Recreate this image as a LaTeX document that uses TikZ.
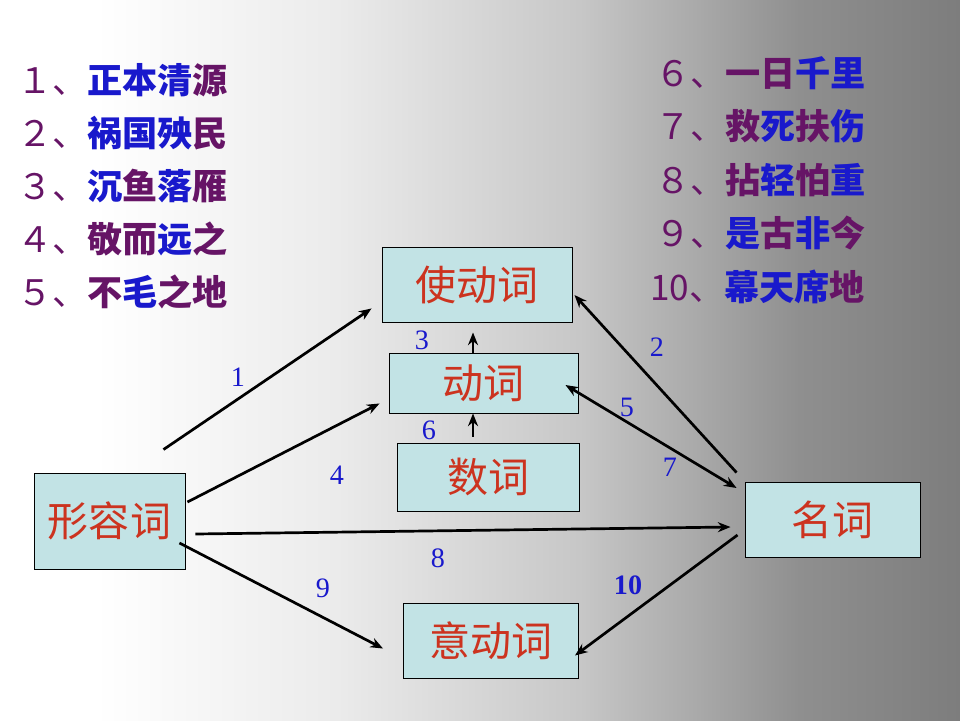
\documentclass[tikz,border=0pt]{standalone}
\usepackage{fontspec}
\newfontfamily\cjk{Noto Sans CJK SC}
\newfontfamily\numfont{Liberation Serif}
\usetikzlibrary{arrows.meta, calc}
\definecolor{idiompurple}{rgb}{0.40,0.08,0.40}
\definecolor{idiomblue}{rgb}{0.10,0.10,0.80}
\definecolor{wordred}{rgb}{0.80,0.20,0.12}
\definecolor{boxfill}{rgb}{0.76,0.89,0.90}
\definecolor{numblue}{rgb}{0.10,0.10,0.80}
\definecolor{bgA}{rgb}{0.92,0.92,0.92}
\definecolor{bgB}{rgb}{0.78,0.78,0.78}
\definecolor{bgC}{rgb}{0.66,0.66,0.66}
\definecolor{bgD}{rgb}{0.56,0.56,0.56}
\definecolor{bgE}{rgb}{0.49,0.49,0.49}
\pgfdeclarehorizontalshading{slide}{100bp}{color(0bp)=(white); color(25bp)=(white); color(30bp)=(white);
  color(42.7bp)=(bgA); color(55.2bp)=(bgB); color(61.5bp)=(bgC); color(66.7bp)=(bgD); color(75bp)=(bgE); color(100bp)=(bgE)}
\newcommand{\cpur}[1]{\textcolor{idiompurple}{#1}}
\newcommand{\cblu}[1]{\textcolor{idiomblue}{#1}}
\newcommand{\inum}[1]{\textcolor{idiompurple}{\mdseries #1}}

\begin{document}
\begin{tikzpicture}[
  x=0.03cm, y=-0.03cm,
  >={Stealth[length=3.8mm, width=3mm]},
  word/.style={
    draw=black,
    line width=0.8pt,
    fill=boxfill,
    text=wordred,
    inner sep=0mm,
    font=\cjk\fontsize{35}{40}\selectfont
  },
  idiom/.style={anchor=west, inner sep=0mm, font=\cjk\bfseries\fontsize{30}{34}\selectfont},
  num/.style={text=numblue, inner sep=0mm, font=\numfont\fontsize{24}{26}\selectfont},
  link/.style={->, line width=2.3pt, black},
]

% background
\shade[shading=slide] (0,0) rectangle (960,720);
\useasboundingbox (0,0) rectangle (960,720);

% idioms
\node[idiom] (idiom1) at (17,80) {\inum{１、}\cblu{正本清}\cpur{源}};
\node[idiom] (idiom2) at (17,133) {\inum{２、}\cblu{祸国殃}\cpur{民}};
\node[idiom] (idiom3) at (17,186) {\inum{３、}\cblu{沉}\cpur{鱼}\cblu{落}\cpur{雁}};
\node[idiom] (idiom4) at (17,239) {\inum{４、}\cpur{敬而}\cblu{远}\cpur{之}};
\node[idiom] (idiom5) at (17,292) {\inum{５、}\cpur{不}\cblu{毛}\cpur{之地}};

\node[idiom] (idiom6) at (655,73) {\inum{６、}\cpur{一日}\cblu{千里}};
\node[idiom] (idiom7) at (655,126) {\inum{７、}\cpur{救}\cblu{死}\cpur{扶}\cblu{伤}};
\node[idiom] (idiom8) at (655,180) {\inum{８、}\cpur{拈}\cblu{轻}\cpur{怕}\cblu{重}};
\node[idiom] (idiom9) at (655,233) {\inum{９、}\cblu{是}\cpur{古}\cblu{非}\cpur{今}};
\node[idiom] (idiom10) at (650,287) {\inum{10、}\cblu{幕天席}\cpur{地}};

% word classes
\node[word, minimum width=5.7cm, minimum height=2.25cm] (shidong) at (477,284.5) {使动词};
\node[word, minimum width=5.67cm, minimum height=1.8cm] (dong) at (483.5,383) {动词};
\node[word, minimum width=5.46cm, minimum height=2.04cm] (shu) at (488,477) {数词};
\node[word, minimum width=4.53cm, minimum height=2.88cm] (xing) at (109.5,521) {形容词};
\node[word, minimum width=5.25cm, minimum height=2.25cm] (ming) at (832.5,519.5) {名词};
\node[word, minimum width=5.25cm, minimum height=2.25cm] (yi) at (491,640.5) {意动词};

% links
\draw[link] ($(xing.north east)+(-22,-23)$) -- ($(shidong.south west)+(-10,-14)$);
\draw[link] ($(ming.north west)+(-8,-9)$) -- ($(shidong.east)+(2,10.5)$);
\draw[link] ($(dong.north)+(-10.5,0)$) -- ($(shidong.south)+(-4,10)$);
\draw[link] ($(xing.east)+(2,-19)$) -- ($(dong.south west)+(-9,-10)$);
\draw[link, <->] ($(dong.east)+(-13,2)$) -- ($(ming.west)+(-8,-31.5)$);
\draw[link] ($(shu.north)+(-15,-6)$) -- (dong.south -| 473,0);
\draw[link] ($(xing.east)+(10,13)$) -- ($(ming.west)+(-14,7.5)$);
\draw[link] ($(xing.east)+(-6,22)$) -- ($(yi.west)+(-20,8)$);
\draw[link] ($(ming.west)+(-7,15.5)$) -- ($(yi.east)+(-4,15)$);

% labels
\node[num] (n1) at (238,377) {1};
\node[num] (n2) at (657,347) {2};
\node[num] (n3) at (422,340) {3};
\node[num] (n4) at (337,475) {4};
\node[num] (n5) at (627,407) {5};
\node[num] (n6) at (429,430) {6};
\node[num] (n7) at (670,467) {7};
\node[num] (n8) at (438,558) {8};
\node[num] (n9) at (323,588) {9};
\node[num, font=\numfont\bfseries\fontsize{24}{26}\selectfont] (n10) at (628,585) {10};

\end{tikzpicture}
\end{document}
